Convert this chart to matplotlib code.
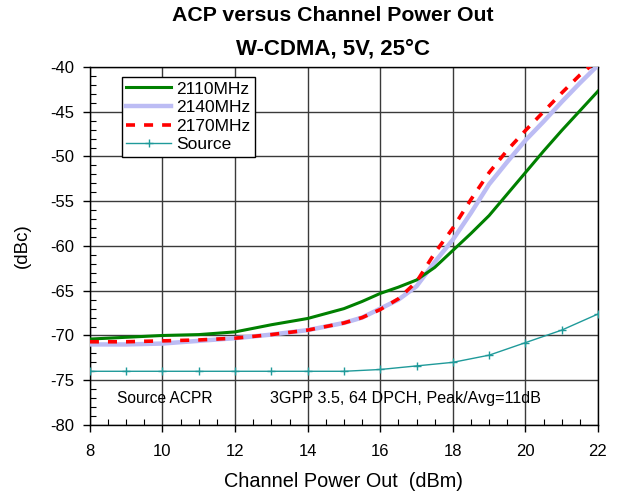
import numpy as np
import matplotlib.pyplot as plt
from matplotlib.ticker import MultipleLocator

plt.rcParams['font.family'] = ['Liberation Sans', 'DejaVu Sans']
plt.rcParams['axes.unicode_minus'] = False

# channel power out (dBm) and ACP (dBc)
pout = [8, 9, 10, 11, 12, 13, 14, 15, 15.5, 16, 16.5, 17, 17.5,
        18, 18.5, 19, 19.5, 20, 20.5, 21, 21.5, 22]
acp_2110 = [-70.4, -70.2, -70.0, -69.9, -69.6, -68.8, -68.1, -67.0, -66.2,
            -65.3, -64.6, -63.8, -62.4, -60.5, -58.6, -56.6, -54.2, -51.8,
            -49.4, -47.1, -44.9, -42.7]
acp_2140 = [-71.0, -71.0, -70.9, -70.6, -70.3, -69.9, -69.4, -68.6, -68.0,
            -67.0, -66.0, -64.5, -61.8, -59.3, -56.3, -53.1, -50.6, -48.2,
            -46.1, -43.9, -41.8, -39.8]
acp_2170 = [-70.7, -70.7, -70.6, -70.5, -70.3, -69.9, -69.4, -68.6, -68.0,
            -67.1, -65.9, -64.0, -60.8, -58.0, -54.8, -51.8, -49.3, -47.1,
            -45.0, -42.9, -40.9, -39.2]

src_pout = [8, 9, 10, 11, 12, 13, 14, 15, 16, 17, 18, 19, 20, 21, 22]
src_acp = [-74.0, -74.0, -74.0, -74.0, -74.0, -74.0, -74.0, -74.0,
           -73.8, -73.4, -73.0, -72.2, -70.8, -69.4, -67.6]

fig = plt.figure(figsize=(6.2, 4.97), dpi=100)
ax = fig.add_axes([0.145, 0.1449, 0.8195, 0.7203])

ax.plot(pout, acp_2110, color='#008000', lw=2.2, label='2110MHz', zorder=4)
ax.plot(pout, acp_2140, color='#bcbcf4', lw=3.2, label='2140MHz', zorder=3)
ax.plot(pout, acp_2170, color='#ff0000', lw=2.6, dashes=(2.5, 2.5),
        label='2170MHz', zorder=5)
ax.plot(src_pout, src_acp, color='#1f9a9a', lw=1, marker='+', ms=6,
        mew=1, label='Source', zorder=4)

ax.set_xlim(8, 22)
ax.set_ylim(-80, -40)
ax.xaxis.set_major_locator(MultipleLocator(2))
ax.xaxis.set_minor_locator(MultipleLocator(0.5))
ax.yaxis.set_major_locator(MultipleLocator(5))
ax.yaxis.set_minor_locator(MultipleLocator(1))
ax.tick_params(which='major', direction='out', length=5, width=1,
               labelsize=12)
ax.tick_params(which='minor', direction='in', length=4, width=0.8)
ax.tick_params(axis='x', which='major', pad=9)
ax.tick_params(axis='y', which='major', pad=6)
ax.grid(True, which='major', color='#3a3a3a', lw=1)
for s in ax.spines.values():
    s.set_linewidth(1)

ax.set_xlabel('Channel Power Out  (dBm)', fontsize=14.3, labelpad=9)
ax.set_ylabel('(dBc)', fontsize=13.5, labelpad=14)

ax.text(10.07, -77.0, 'Source ACPR', fontsize=11.2, ha='center', va='center')
ax.text(16.69, -77.0, '3GPP 3.5, 64 DPCH, Peak/Avg=11dB', fontsize=11.6,
        ha='center', va='center')

leg = ax.legend(loc='upper left', bbox_to_anchor=(0.063, 0.972),
                fontsize=12.5, frameon=True, fancybox=False, framealpha=1,
                edgecolor='black', borderpad=0.25, labelspacing=0.2,
                handlelength=2.6, handletextpad=0.3, borderaxespad=0)
leg.get_frame().set_linewidth(1)

fig.text(0.537, 0.969, 'ACP versus Channel Power Out', fontsize=15.3,
         fontweight='bold', ha='center', va='center')
fig.text(0.537, 0.901, 'W-CDMA, 5V, 25\u00b0C', fontsize=16,
         fontweight='bold', ha='center', va='center')

fig.savefig('out.png', dpi=100)
